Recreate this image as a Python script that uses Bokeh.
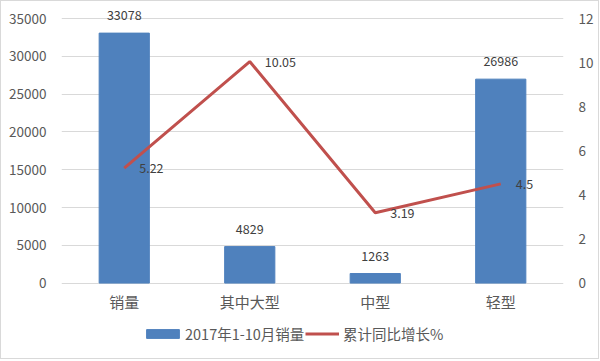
from bokeh.plotting import figure
from bokeh.models import Range1d, LinearAxis, Legend, LegendItem, ColumnDataSource, FixedTicker
from bokeh.core.properties import value
from bokeh.embed import file_html
from bokeh.resources import INLINE

categories = ["销量", "其中大型", "中型", "轻型"]
sales = [33078, 4829, 1263, 26986]
growth = [5.22, 10.05, 3.19, 4.5]
sales_labels = ["33078", "4829", "1263", "26986"]
growth_labels = ["5.22", "10.05", "3.19", "4.5"]
left_ticks = [0, 5000, 10000, 15000, 20000, 25000, 30000, 35000]
right_ticks = [0, 2, 4, 6, 8, 10, 12]
LMAX, RMAX = 35000, 12

FONT = "Noto Sans CJK SC"
BLUE = "#4F81BD"
RED = "#C0504D"
GRID = "#D9D9D9"
TXT = "#595959"

W, H = 599, 359
INNER_H = H - 2          # css border inside the box
LEFT, RIGHT = 60, 37
Y_TOP, Y_ZERO = 17, 280  # inner pixel rows of the top tick and of zero
span = Y_ZERO - Y_TOP
above = Y_TOP / span
below = (INNER_H - Y_ZERO) / span

src = ColumnDataSource(dict(cat=categories, sales=sales, growth=growth,
                            sl=sales_labels, gl=growth_labels))

p = figure(x_range=categories, y_range=Range1d(-LMAX * below, LMAX * (1 + above)),
           width=W, height=H, output_backend="svg", toolbar_location=None,
           x_axis_location=None)
p.extra_y_ranges = {"pct": Range1d(-RMAX * below, RMAX * (1 + above))}
p.x_range.range_padding = 0
p.min_border_left = LEFT
p.min_border_right = RIGHT
p.min_border_top = 0
p.min_border_bottom = 0
p.outline_line_color = None
p.background_fill_color = "white"
p.border_fill_color = "white"
p.styles = {"border": "1px solid #D9D9D9", "box-sizing": "border-box"}

bars = p.vbar(x="cat", top="sales", width=0.4, source=src, color=BLUE)
ln = p.line(x="cat", y="growth", source=src, y_range_name="pct", color=RED, line_width=3)

p.text(x="cat", y="sales", text="sl", source=src, text_align="center", text_baseline="middle",
       y_offset=-18, text_font=value(FONT), text_font_size="12.5px", text_color="#404040")
p.text(x="cat", y="growth", text="gl", source=src, y_range_name="pct", text_align="left",
       text_baseline="middle", x_offset=15, text_font=value(FONT), text_font_size="12.5px",
       text_color="#404040")
p.text(x="cat", y=0, text="cat", source=src, text_align="center", text_baseline="middle",
       y_offset=18, text_font=value(FONT), text_font_size="15px", text_color=TXT)

p.yaxis.ticker = FixedTicker(ticks=left_ticks)
right = LinearAxis(y_range_name="pct", ticker=FixedTicker(ticks=right_ticks))
p.add_layout(right, "right")

for ax in [p.yaxis[0], right]:
    ax.axis_line_color = None
    ax.major_tick_line_color = None
    ax.minor_tick_line_color = None
    ax.major_label_text_font = FONT
    ax.major_label_text_font_size = "13.5px"
    ax.major_label_text_color = TXT
    ax.major_label_standoff = 9

p.xgrid.grid_line_color = None
p.ygrid.grid_line_color = GRID
p.ygrid.grid_line_width = 1

common = dict(orientation="horizontal", label_text_font=FONT, label_text_font_size="14.5px",
              label_text_color=TXT, border_line_color=None, background_fill_alpha=0,
              padding=0, margin=0, label_height=11)
leg1 = Legend(items=[LegendItem(label="2017年1-10月销量", renderers=[bars])],
              location=(81, 16), glyph_width=41, glyph_height=11, label_standoff=2, **common)
leg2 = Legend(items=[LegendItem(label="累计同比增长%", renderers=[ln])],
              location=(244, 16), glyph_width=34, glyph_height=11, label_standoff=4, **common)
p.add_layout(leg1, "center")
p.add_layout(leg2, "center")

open("out.html", "w").write(file_html(p, INLINE))
